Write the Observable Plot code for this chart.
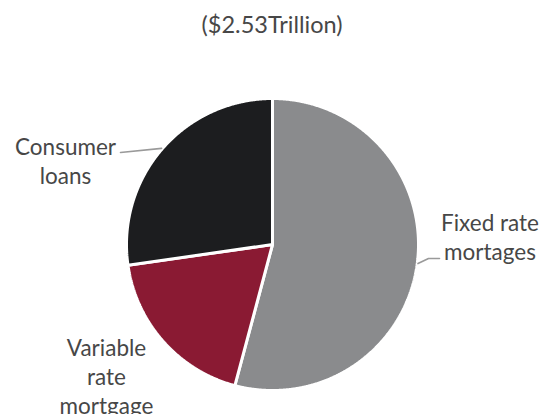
<!DOCTYPE html>
<html><head><meta charset="utf-8">
<script src="https://cdn.jsdelivr.net/npm/d3@7"></script>
<script src="https://cdn.jsdelivr.net/npm/@observablehq/plot@0.6"></script>
<style>body{margin:0;background:#fff}</style>
</head><body><div id="chart"></div>
<script>
const title = "($2.53Trillion)";
const categories = ["Fixed rate mortgages", "Variable rate mortgage", "Consumer loans"];
const labelLines = ["Fixed rate\nmortages", "Variable\nrate\nmortgage", "Consumer\nloans"];
const values = [1.37, 0.47, 0.69];
const colors = ["#8a8b8d", "#8a1a33", "#1c1d1f"];

const W = 550, H = 414, CX = 272, CY = 244, R = 146;
const FS = 22.5;
const rows = categories.map((c, i) => ({category: c, value: values[i]}));
const arcs = d3.pie().sort(null).value(d => d.value)(rows);

const pts = [];
for (const a of arcs) {
  const c = a.data.category;
  pts.push({category: c, x: 0, y: 0});
  const n = Math.max(2, Math.ceil((a.endAngle - a.startAngle) / 0.005));
  for (let k = 0; k <= n; k++) {
    const t = a.startAngle + (a.endAngle - a.startAngle) * k / n;
    pts.push({category: c, x: Math.sin(t), y: Math.cos(t)});
  }
}
const ux = px => (px - CX) / R, uy = py => (CY - py) / R;
const leaderEnds = {"Consumer loans": [[120, 152]], "Fixed rate mortgages": [[428, 258], [439, 258]]};
const leaders = [];
for (const a of arcs) {
  const ends = leaderEnds[a.data.category];
  if (!ends) continue;
  const m = (a.startAngle + a.endAngle) / 2;
  leaders.push({category: a.data.category, x: Math.sin(m) * 1.005, y: Math.cos(m) * 1.005});
  for (const [px, py] of ends) leaders.push({category: a.data.category, x: ux(px), y: uy(py)});
}
const labelPos = {"Consumer loans": [65, 159.5], "Fixed rate mortgages": [489.5, 236], "Variable rate mortgage": [106, 375]};
const labelRows = categories.map((c, i) => ({text: labelLines[i], px: labelPos[c][0], py: labelPos[c][1]}));

const chart = Plot.plot({
  width: W, height: H, margin: 0,
  x: {domain: [ux(0), ux(W)], range: [0, W], axis: null},
  y: {domain: [uy(H), uy(0)], range: [H, 0], axis: null},
  color: {domain: categories, range: colors},
  style: {fontFamily: "Lato, 'Open Sans', sans-serif", background: "#fff"},
  marks: [
    Plot.line(pts, {x: "x", y: "y", z: "category", fill: "category", stroke: "white", strokeWidth: 3, curve: "linear-closed", strokeLinejoin: "miter"}),
    Plot.line(leaders, {x: "x", y: "y", z: "category", stroke: "#9a9a9a", strokeWidth: 1.6}),
    ...labelRows.map(d => Plot.text([d.text], {frameAnchor: "top-left", dx: d.px, dy: d.py, text: t => t, fontSize: FS, lineHeight: 1.28, lineAnchor: "middle", fill: "#474747", textAnchor: "middle"})),
    Plot.text([title], {frameAnchor: "top-left", dx: 271.5, dy: 25, text: t => t, fontSize: 23.5, lineAnchor: "middle", fill: "#474747", textAnchor: "middle"})
  ]
});
document.getElementById("chart").appendChild(chart);
</script></body></html>
